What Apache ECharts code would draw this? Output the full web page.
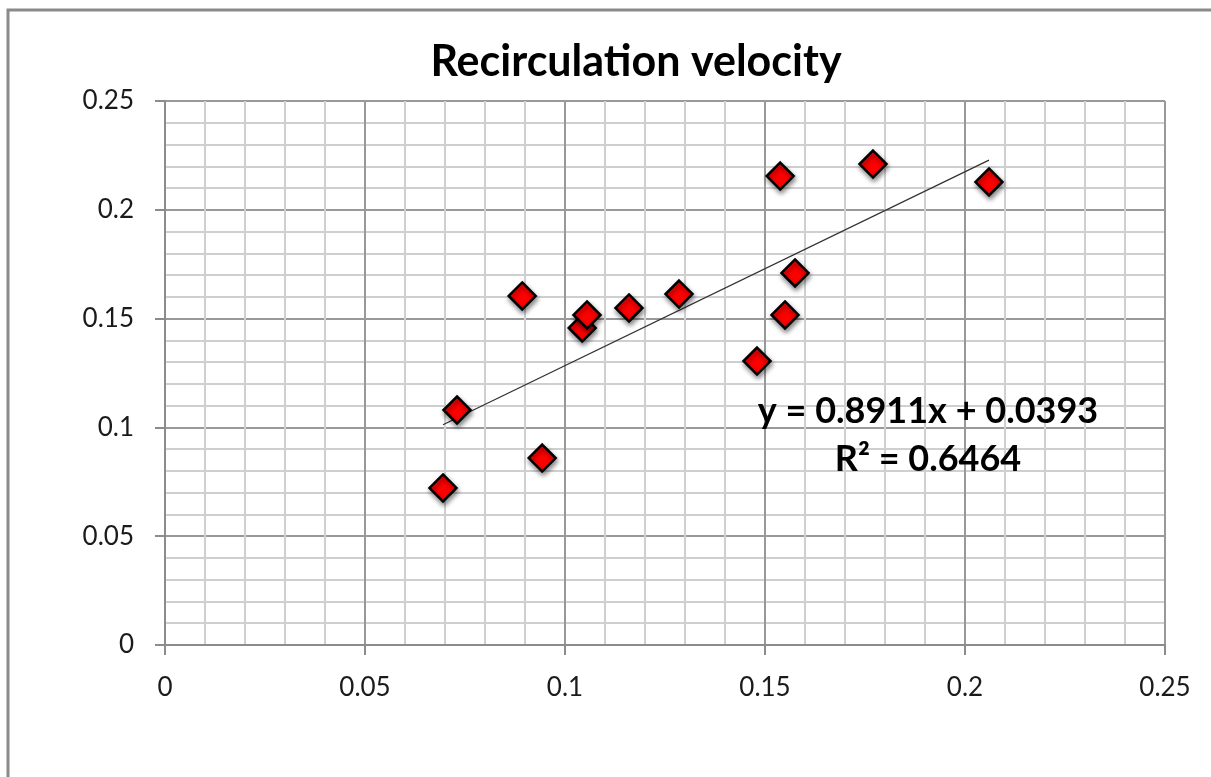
<!DOCTYPE html>
<html><head><meta charset="utf-8">
<script src="https://cdn.jsdelivr.net/npm/echarts@6/dist/echarts.min.js"></script>
<style>html,body{margin:0;padding:0;background:#fff}#c{width:1211px;height:777px}</style>
</head><body><div id="c"></div>
<script>
const xValues = [0.0695, 0.073, 0.0893, 0.0943, 0.1043, 0.1055, 0.116, 0.1285, 0.148, 0.1538, 0.155, 0.1575, 0.177, 0.206];
const yValues = [0.0722, 0.108, 0.1604, 0.0859, 0.1457, 0.1517, 0.1549, 0.1613, 0.1305, 0.2155, 0.1517, 0.171, 0.221, 0.2128];
const trendSlope = 0.8911;
const trendIntercept = 0.0393;
const rSquared = 0.6464;
const titleText = 'Recirculation velocity';

const points = xValues.map((x, i) => [x, yValues[i]]);
const xmin = Math.min(...xValues), xmax = Math.max(...xValues);
const trend = [[xmin, trendSlope * xmin + trendIntercept], [xmax, trendSlope * xmax + trendIntercept]];
const font = 'Lato, "Open Sans", sans-serif';
const fmt = v => v === 0 ? '0' : String(+v.toFixed(2));

const chart = echarts.init(document.getElementById('c'));
chart.setOption({
  animation: false,
  backgroundColor: '#fff',
  title: { text: titleText, left: 631, top: 36, textAlign: 'center',
    textStyle: { fontFamily: font, fontWeight: 'bold', fontSize: 43, color: '#000' } },
  grid: { left: 165, right: 46, top: 101, bottom: 132 },
  xAxis: { type: 'value', min: 0, max: 0.25, interval: 0.05,
    axisLine: { lineStyle: { color: '#8c8c8c', width: 2 } },
    axisTick: { show: true, length: 10, lineStyle: { color: '#8c8c8c', width: 2 } },
    axisLabel: { fontFamily: font, fontSize: 26, color: '#1a1a1a', margin: 30, formatter: fmt },
    splitLine: { show: true, lineStyle: { color: '#999', width: 2 } },
    minorTick: { show: false, splitNumber: 5 },
    minorSplitLine: { show: true, lineStyle: { color: '#cfcfcf', width: 2 } } },
  yAxis: { type: 'value', min: 0, max: 0.25, interval: 0.05,
    axisLine: { show: true, lineStyle: { color: '#8c8c8c', width: 2 } },
    axisTick: { show: true, length: 10, lineStyle: { color: '#8c8c8c', width: 2 } },
    axisLabel: { fontFamily: font, fontSize: 26, color: '#1a1a1a', margin: 31, formatter: fmt },
    splitLine: { show: true, lineStyle: { color: '#999', width: 2 } },
    minorTick: { show: false, splitNumber: 5 },
    minorSplitLine: { show: true, lineStyle: { color: '#cfcfcf', width: 2 } } },
  graphic: [
    { type: 'rect', shape: { x: 8, y: 10, width: 1260, height: 850 }, silent: true, z: 100,
      style: { fill: 'none', stroke: '#8a8a8a', lineWidth: 3 } },
    { type: 'text', z: 100, style: { x: 928, y: 411, text: 'y = ' + trendSlope + 'x + 0.0393', align: 'center', verticalAlign: 'middle',
      font: 'bold 36px ' + font, fill: '#000' } },
    { type: 'text', z: 100, style: { x: 928, y: 459, text: 'R² = ' + rSquared, align: 'center', verticalAlign: 'middle',
      font: 'bold 36px ' + font, fill: '#000' } }
  ],
  series: [
    { type: 'line', data: trend, symbol: 'none', lineStyle: { color: '#333', width: 1.3 }, z: 2, silent: true },
    { type: 'scatter', data: points, symbol: 'diamond', symbolSize: 27, z: 3,
      itemStyle: { color: '#ff0000', opacity: 1, borderColor: '#000', borderWidth: 2.5,
        shadowColor: 'rgba(0,0,0,0.45)', shadowBlur: 5, shadowOffsetX: 1, shadowOffsetY: 3 } }
  ]
});
</script></body></html>
